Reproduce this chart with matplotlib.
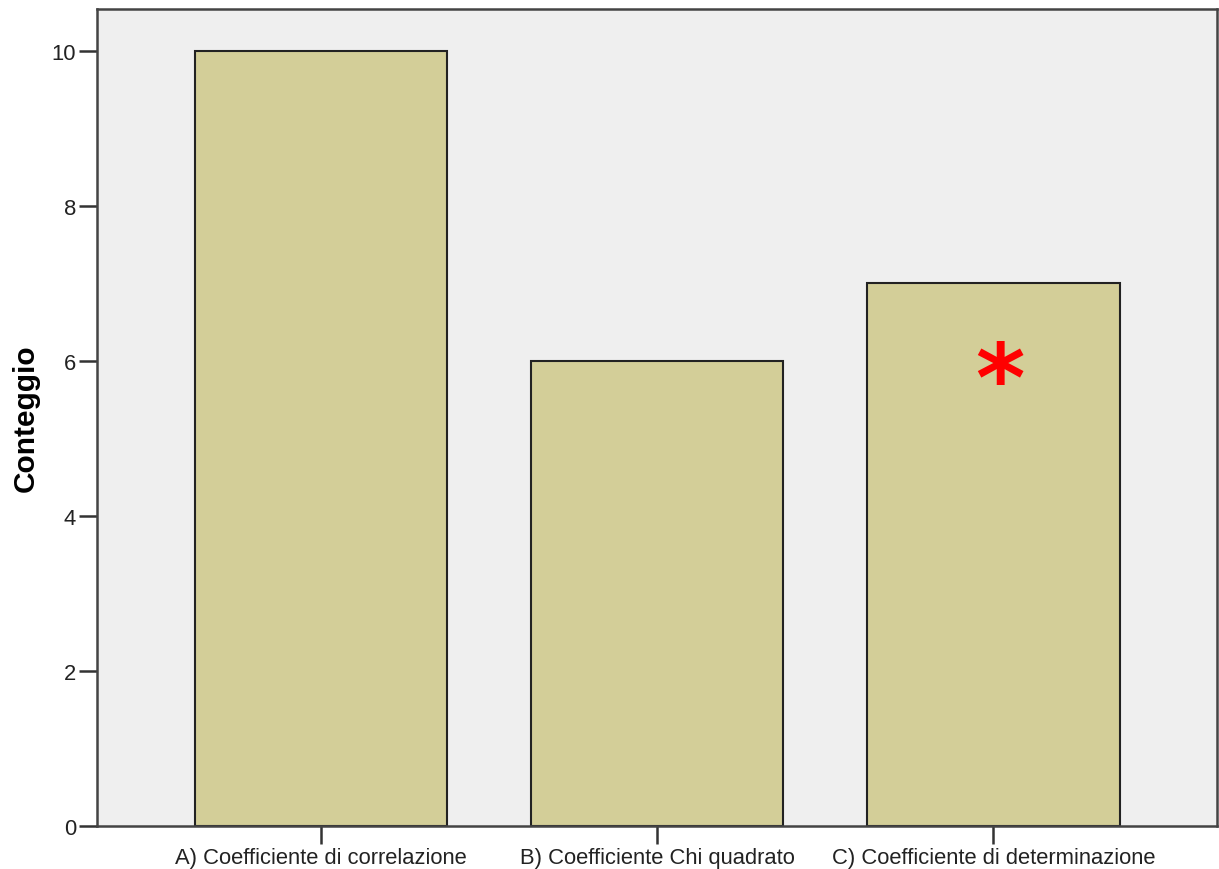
import matplotlib
matplotlib.use("Agg")
import matplotlib.pyplot as plt

categories = ["A) Coefficiente di correlazione",
              "B) Coefficiente Chi quadrato",
              "C) Coefficiente di determinazione"]
counts = [10, 6, 7]
yticks = [0, 2, 4, 6, 8, 10]
marked_index = 2
ylabel = "Conteggio"

plt.rcParams['font.family'] = ['Liberation Sans', 'DejaVu Sans']

fig = plt.figure(figsize=(12.19, 8.7), dpi=100)
ax = fig.add_axes([0.0796, 0.0494, 0.9188, 0.9391])
ax.set_facecolor('#EFEFEF')
fig.patch.set_facecolor('white')

x = list(range(len(categories)))
ax.bar(x, counts, width=0.75, color='#D3CE98', edgecolor='#222222', linewidth=1.5, zorder=2)

ax.text(marked_index + 0.02, counts[marked_index] - 1.3, '*', color='#FF0000',
        fontsize=68, fontweight='bold', ha='center', va='center', zorder=3,
        family='DejaVu Sans')

ax.set_xlim(-0.665, 2.665)
ax.set_ylim(0, 10.54)
ax.set_xticks(x)
ax.set_xticklabels(categories)
ax.set_yticks(yticks)
ax.set_yticklabels([str(t) for t in yticks])
ax.tick_params(axis='both', direction='out', length=13, width=1.8, color='#333333',
               labelsize=15.8, labelcolor='#222222', pad=2)
for s in ax.spines.values():
    s.set_color('#444444')
    s.set_linewidth(1.8)
ax.set_ylabel(ylabel, fontsize=21.5, fontweight='bold')
ax.yaxis.label.set_va('center')
ax.yaxis.set_label_coords(-0.0635, 0.5)

fig.savefig('out.png', dpi=100)
